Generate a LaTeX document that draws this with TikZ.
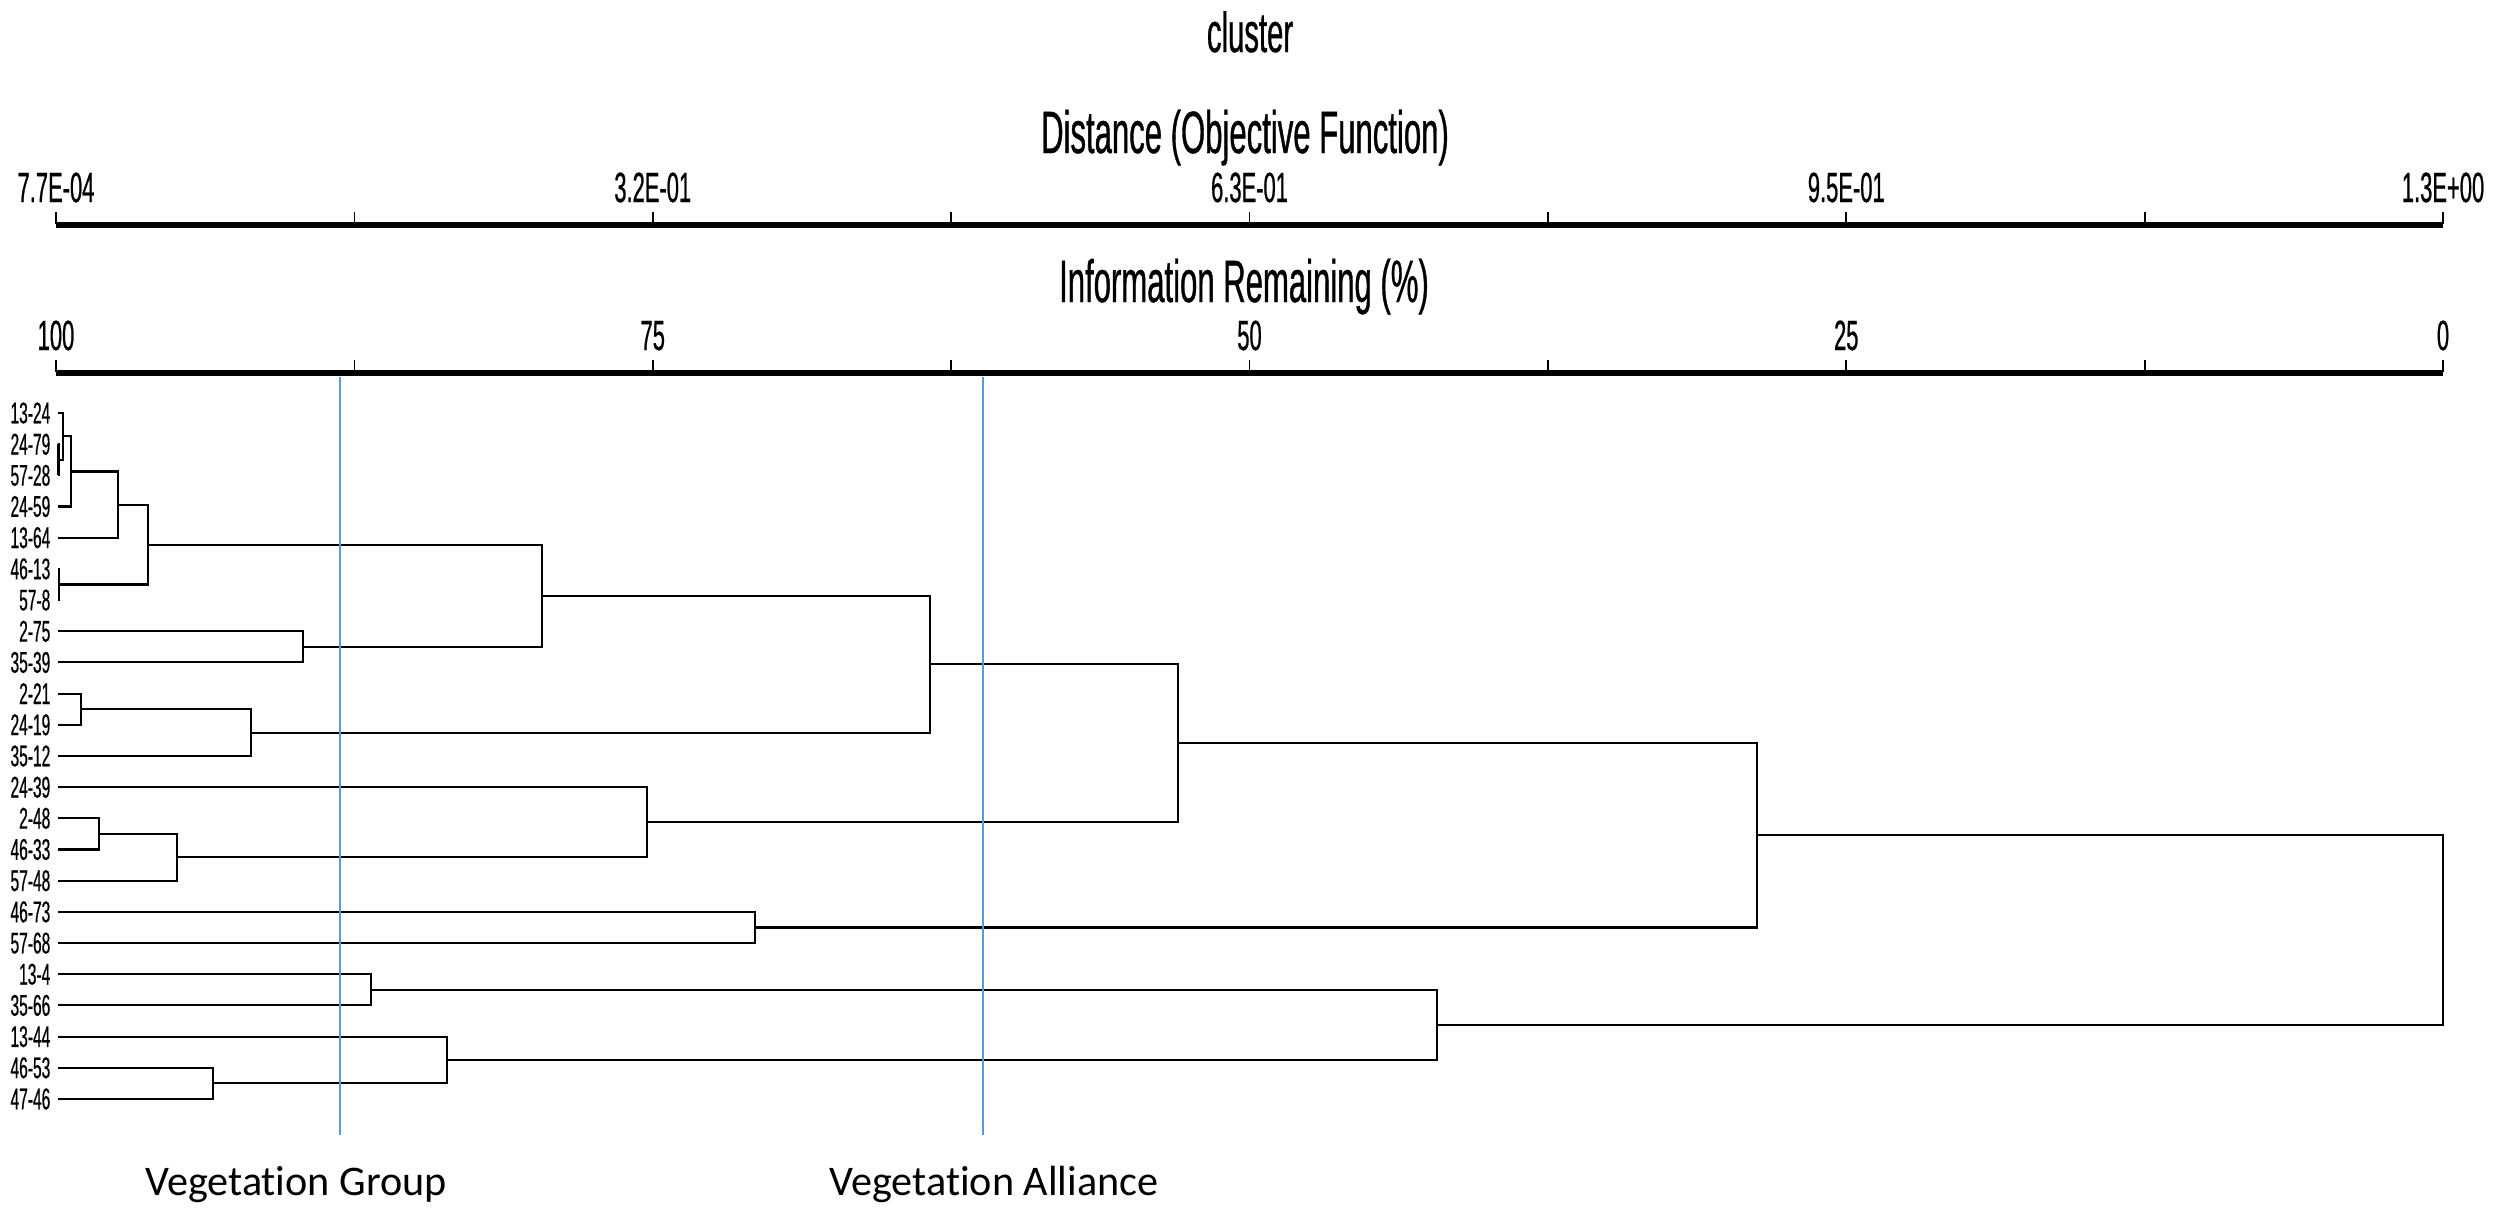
\documentclass[tikz,border=0pt]{standalone}
\usepackage{fontspec}
\newfontfamily\plotfont[FakeStretch=0.52,FakeBold=0.6]{Liberation Sans}
\newfontfamily\notefont[Ligatures=NoCommon]{Carlito}
\usetikzlibrary{positioning,calc}
\definecolor{cutblue}{RGB}{91,155,213}

\begin{document}
\begin{tikzpicture}[
    x=0.01cm,
    y=-0.01cm,
    leaf/.style={anchor=east, inner sep=0pt, font=\plotfont\fontsize{8.5}{10}\selectfont},
    ticklab/.style={anchor=base, inner sep=0pt, font=\plotfont\fontsize{12}{14}\selectfont},
    axtitle/.style={anchor=base, inner sep=0pt, font=\plotfont\fontsize{17}{20}\selectfont},
    axisbar/.style={line width=1.7pt},
    tickmark/.style={line width=0.5pt},
    link/.style={line width=0.6pt},
    cut/.style={draw=cutblue, line width=0.7pt},
    note/.style={anchor=base, inner sep=0pt, font=\notefont\fontsize{12}{14}\selectfont}
]
\useasboundingbox (0,0) rectangle (2509,1208);

% ============================================================
% TITEL + ACHSEN
% ============================================================
\node[axtitle, font=\plotfont\fontsize{16}{19}\selectfont] (title) at (1250,52) {cluster};
\node[axtitle] (dtitle) at (1245,153) {Distance (Objective Function)};
\node[axtitle] (ititle) at (1244,302) {Information Remaining (\%)};

\coordinate (d0) at (56,225);
\coordinate (d1) at (2443,225);
\coordinate (i0) at (56,373);
\coordinate (i1) at (2443,373);
\draw[axisbar] (d0) -- (d1);
\draw[axisbar] (i0) -- (i1);
\foreach \t in {0,...,8} {
    \draw[tickmark] ({56+298.375*\t},212) -- ({56+298.375*\t},224);
    \draw[tickmark] ({56+298.375*\t},360) -- ({56+298.375*\t},372);
}

\node[ticklab] (dl0) at (56,202) {7.7E-04};
\node[ticklab] (dl1) at (652.75,202) {3.2E-01};
\node[ticklab] (dl2) at (1249.5,202) {6.3E-01};
\node[ticklab] (dl3) at (1846.25,202) {9.5E-01};
\node[ticklab] (dl4) at (2443,202) {1.3E+00};

\node[ticklab] (il0) at (56,350) {100};
\node[ticklab] (il1) at (652.75,350) {75};
\node[ticklab] (il2) at (1249.5,350) {50};
\node[ticklab] (il3) at (1846.25,350) {25};
\node[ticklab] (il4) at (2443,350) {0};

% ============================================================
% BLAETTER
% ============================================================
\node[leaf] (l0) at (51,413) {13-24};      \coordinate (s0) at (58,413);
\node[leaf] (l1) at (51,444.2) {24-79};    \coordinate (s1) at (58,444.2);
\node[leaf] (l2) at (51,475.4) {57-28};    \coordinate (s2) at (58,475.4);
\node[leaf] (l3) at (51,506.5) {24-59};    \coordinate (s3) at (58,506.5);
\node[leaf] (l4) at (51,537.7) {13-64};    \coordinate (s4) at (58,537.7);
\node[leaf] (l5) at (51,568.9) {46-13};    \coordinate (s5) at (58,568.9);
\node[leaf] (l6) at (51,600.1) {57-8};     \coordinate (s6) at (58,600.1);
\node[leaf] (l7) at (51,631.3) {2-75};     \coordinate (s7) at (58,631.3);
\node[leaf] (l8) at (51,662.4) {35-39};    \coordinate (s8) at (58,662.4);
\node[leaf] (l9) at (51,693.6) {2-21};     \coordinate (s9) at (58,693.6);
\node[leaf] (l10) at (51,724.8) {24-19};   \coordinate (s10) at (58,724.8);
\node[leaf] (l11) at (51,756) {35-12};     \coordinate (s11) at (58,756);
\node[leaf] (l12) at (51,787.2) {24-39};   \coordinate (s12) at (58,787.2);
\node[leaf] (l13) at (51,818.3) {2-48};    \coordinate (s13) at (58,818.3);
\node[leaf] (l14) at (51,849.5) {46-33};   \coordinate (s14) at (58,849.5);
\node[leaf] (l15) at (51,880.7) {57-48};   \coordinate (s15) at (58,880.7);
\node[leaf] (l16) at (51,911.9) {46-73};   \coordinate (s16) at (58,911.9);
\node[leaf] (l17) at (51,943.1) {57-68};   \coordinate (s17) at (58,943.1);
\node[leaf] (l18) at (51,974.2) {13-4};    \coordinate (s18) at (58,974.2);
\node[leaf] (l19) at (51,1005.4) {35-66};  \coordinate (s19) at (58,1005.4);
\node[leaf] (l20) at (51,1036.6) {13-44};  \coordinate (s20) at (58,1036.6);
\node[leaf] (l21) at (51,1067.8) {46-53};  \coordinate (s21) at (58,1067.8);
\node[leaf] (l22) at (51,1099) {47-46};    \coordinate (s22) at (58,1099);

% ============================================================
% VERKNUEPFUNGEN
% ============================================================
\coordinate (m1) at (58.5,459.8);
\coordinate (m2) at (63,436.4);
\coordinate (m3) at (71,471.5);
\coordinate (m4) at (118,504.6);
\coordinate (m5) at (59,584.5);
\coordinate (m6) at (148,544.6);
\coordinate (m7) at (303,646.9);
\coordinate (m8) at (542,595.7);
\coordinate (m9) at (81,709.2);
\coordinate (m10) at (251,732.6);
\coordinate (m11) at (930,664.2);
\coordinate (m12) at (99,833.9);
\coordinate (m13) at (177,857.3);
\coordinate (m14) at (647,822.2);
\coordinate (m15) at (1178,743.2);
\coordinate (m16) at (755,927.5);
\coordinate (m17) at (1757,835.3);
\coordinate (m18) at (371,989.8);
\coordinate (m19) at (213,1083.4);
\coordinate (m20) at (447,1060);
\coordinate (m21) at (1437,1024.9);
\coordinate (m22) at (2443,930.1);

\draw[link] (s1) -| (m1) |- (s2);
\draw[link] (s0) -| (m2) |- (m1);
\draw[link] (m2) -| (m3) |- (s3);
\draw[link] (m3) -| (m4) |- (s4);
\draw[link] (s5) -| (m5) |- (s6);
\draw[link] (m4) -| (m6) |- (m5);
\draw[link] (s7) -| (m7) |- (s8);
\draw[link] (m6) -| (m8) |- (m7);
\draw[link] (s9) -| (m9) |- (s10);
\draw[link] (m9) -| (m10) |- (s11);
\draw[link] (m8) -| (m11) |- (m10);
\draw[link] (s13) -| (m12) |- (s14);
\draw[link] (m12) -| (m13) |- (s15);
\draw[link] (s12) -| (m14) |- (m13);
\draw[link] (m11) -| (m15) |- (m14);
\draw[link] (s16) -| (m16) |- (s17);
\draw[link] (m15) -| (m17) |- (m16);
\draw[link] (s18) -| (m18) |- (s19);
\draw[link] (s21) -| (m19) |- (s22);
\draw[link] (s20) -| (m20) |- (m19);
\draw[link] (m18) -| (m21) |- (m20);
\draw[link] (m17) -| (m22) |- (m21);

% ============================================================
% SCHNITTLINIEN
% ============================================================
\coordinate (gtop) at (340,377);
\coordinate (gbot) at (340,1135);
\coordinate (atop) at (983,377);
\coordinate (abot) at (983,1135);
\draw[cut] (gtop) -- (gbot);
\draw[cut] (atop) -- (abot);

\node[note] (group) at (296,1195) {Vegetation Group};
\node[note] (alliance) at (994,1195) {Vegetation Alliance};

\end{tikzpicture}
\end{document}
